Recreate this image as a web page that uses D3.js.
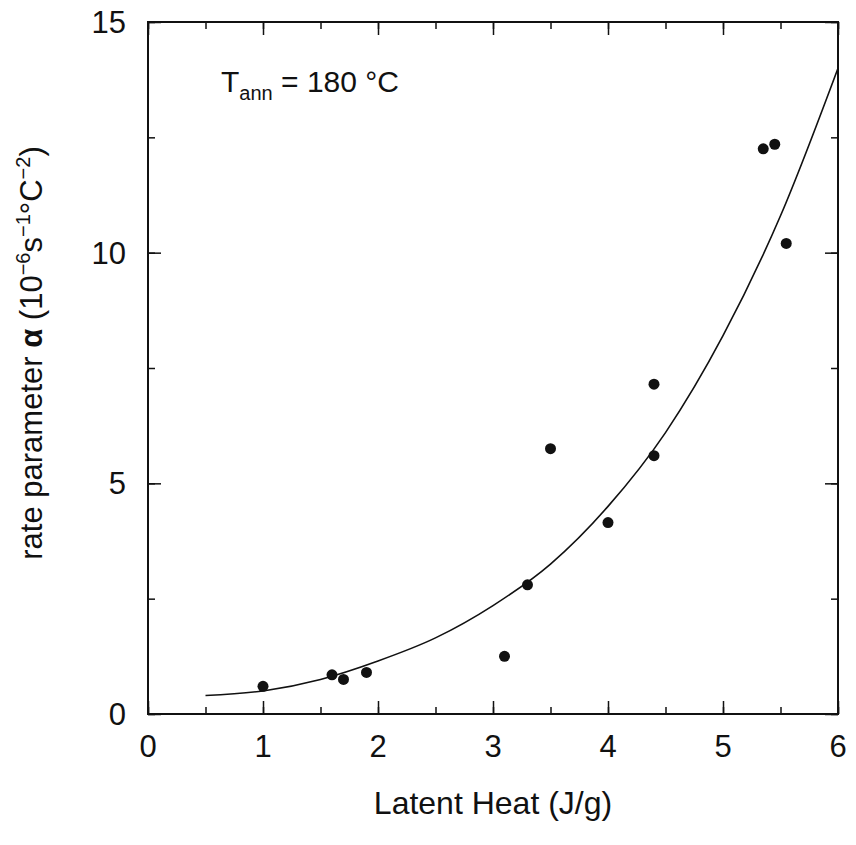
<!DOCTYPE html>
<html><head><meta charset="utf-8">
<script src="https://cdn.jsdelivr.net/npm/d3@7"></script>
<style>body{margin:0;background:#fff}text{font-family:"Liberation Sans",Arial,sans-serif;fill:#111}</style>
</head><body><div id="chart"></div>
<script>
const pointsX = [1.0, 1.6, 1.7, 1.9, 3.1, 3.3, 3.5, 4.0, 4.4, 4.4, 5.35, 5.45, 5.55];
const pointsY = [0.6, 0.85, 0.75, 0.9, 1.25, 2.8, 5.75, 4.15, 7.15, 5.6, 12.25, 12.35, 10.2];
const curveX = [0.5, 1, 1.5, 2, 2.5, 3, 3.5, 4, 4.5, 5, 5.5, 6];
const curveY = [0.4, 0.5, 0.75, 1.15, 1.65, 2.35, 3.25, 4.5, 6.1, 8.2, 10.8, 14.0];
const xTicks = [0, 1, 2, 3, 4, 5, 6];
const yTicks = [0, 5, 10, 15];

const margin = {top: 22, right: 18, bottom: 131, left: 148};
const width = 856 - margin.left - margin.right;
const height = 845 - margin.top - margin.bottom;

const svg = d3.select("#chart").append("svg").attr("width", 856).attr("height", 845);
const g = svg.append("g").attr("transform", `translate(${margin.left}, ${margin.top})`);

const x = d3.scaleLinear().domain([0, 6]).range([0, width]);
const y = d3.scaleLinear().domain([0, 15]).range([height, 0]);

const minorX = d3.range(0, 6.01, 0.5);
const minorY = d3.range(0, 15.01, 2.5);

// ticks inward on all sides
const axes = [
    [d3.axisBottom(x).tickValues(minorX).tickSize(-7).tickFormat(""), `translate(0,${height})`],
    [d3.axisBottom(x).tickValues(xTicks).tickSize(-13).tickFormat(""), `translate(0,${height})`],
    [d3.axisTop(x).tickValues(minorX).tickSize(-7).tickFormat(""), null],
    [d3.axisTop(x).tickValues(xTicks).tickSize(-13).tickFormat(""), null],
    [d3.axisLeft(y).tickValues(minorY).tickSize(-7).tickFormat(""), null],
    [d3.axisLeft(y).tickValues(yTicks).tickSize(-13).tickFormat(""), null],
    [d3.axisRight(y).tickValues(minorY).tickSize(-7).tickFormat(""), `translate(${width},0)`],
    [d3.axisRight(y).tickValues(yTicks).tickSize(-13).tickFormat(""), `translate(${width},0)`],
];
axes.forEach(([ax, tr]) => {
    const a = g.append("g").call(ax);
    if (tr) a.attr("transform", tr);
    a.select(".domain").remove();
    a.selectAll("line").attr("stroke", "#111").attr("stroke-width", 1.5);
});

g.append("rect").attr("width", width).attr("height", height)
    .attr("fill", "none").attr("stroke", "#111").attr("stroke-width", 2);

g.selectAll(".xl").data(xTicks).join("text")
    .attr("x", (d) => x(d)).attr("y", height + 43)
    .attr("text-anchor", "middle").attr("font-size", 31).text((d) => d);
g.selectAll(".yl").data(yTicks).join("text")
    .attr("x", -22).attr("y", (d) => y(d) + 11)
    .attr("text-anchor", "end").attr("font-size", 31).text((d) => d);

const line = d3.line().x((d) => x(d[0])).y((d) => y(d[1])).curve(d3.curveMonotoneX);
g.append("path").datum(curveX.map((v, i) => [v, curveY[i]]))
    .attr("d", line).attr("fill", "none").attr("stroke", "#111").attr("stroke-width", 1.6);

g.selectAll("circle").data(pointsX.map((v, i) => [v, pointsY[i]])).join("circle")
    .attr("cx", (d) => x(d[0])).attr("cy", (d) => y(d[1])).attr("r", 5.5).attr("fill", "#111");

// annotation
const ann = g.append("text").attr("x", 73).attr("y", 70).attr("font-size", 30);
ann.append("tspan").text("T");
ann.append("tspan").attr("font-size", 20).attr("dy", 8).text("ann");
ann.append("tspan").attr("dy", -8).text(" = 180 °C");

// axis labels
g.append("text").attr("x", width / 2).attr("y", height + 100)
    .attr("text-anchor", "middle").attr("font-size", 32).text("Latent Heat (J/g)");

const yl = g.append("text").attr("transform", `translate(-106,${height / 2 - 15}) rotate(-90)`)
    .attr("text-anchor", "middle").attr("font-size", 31);
yl.append("tspan").text("rate parameter ");
yl.append("tspan").attr("font-weight", "bold").text("α");
yl.append("tspan").text(" (10");
yl.append("tspan").attr("font-size", 20).attr("dy", -12).text("−6");
yl.append("tspan").attr("dy", 12).text("s");
yl.append("tspan").attr("font-size", 20).attr("dy", -12).text("−1");
yl.append("tspan").attr("dy", 12).text("°C");
yl.append("tspan").attr("font-size", 20).attr("dy", -12).text("−2");
yl.append("tspan").attr("dy", 12).text(")");
</script></body></html>
